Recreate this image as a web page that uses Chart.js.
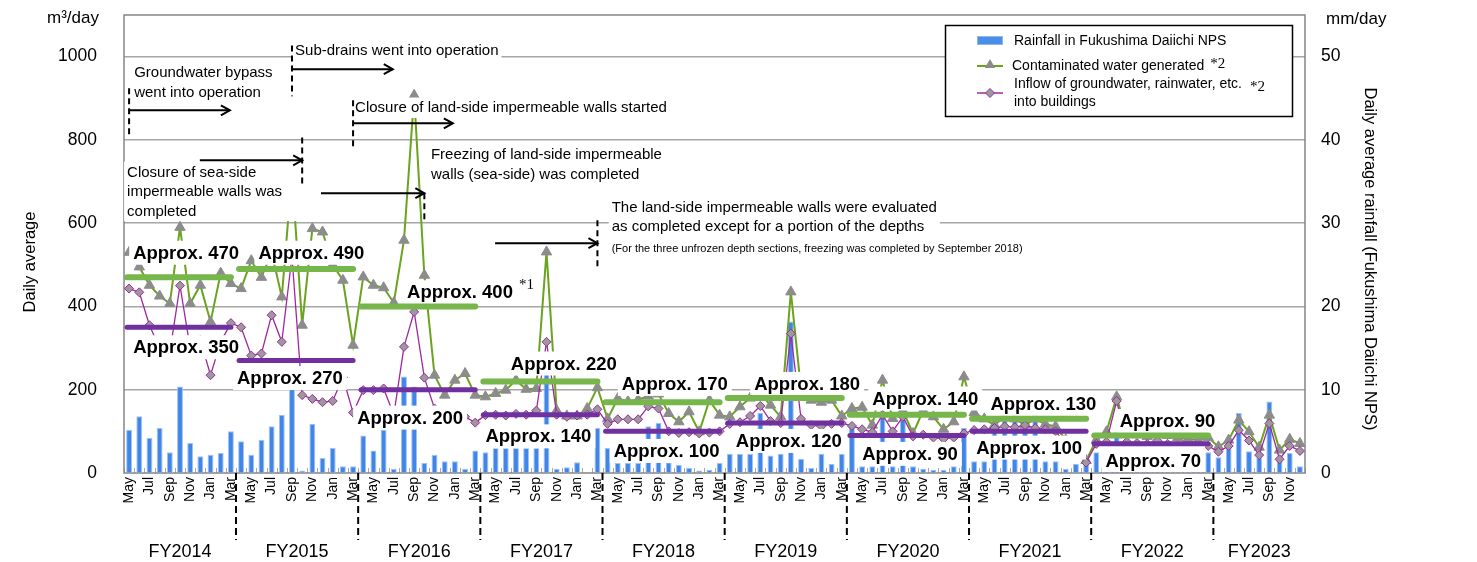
<!DOCTYPE html>
<html>
<head>
<meta charset="utf-8">
<script src="https://cdn.jsdelivr.net/npm/chart.js@4.4.1/dist/chart.umd.min.js"></script>
<style>
  html, body { margin: 0; padding: 0; background: #fff; }
  #wrap { width: 1477px; height: 562px; }
</style>
</head>
<body>
<div id="wrap"><canvas id="myChart" width="1477" height="562"></canvas></div>
<script>
// months from May 2014 to Dec 2023, one row per fiscal year
const months = [
  "May", "Jun", "Jul", "Aug", "Sep", "Oct", "Nov", "Dec", "Jan", "Feb", "Mar",
  "Apr", "May", "Jun", "Jul", "Aug", "Sep", "Oct", "Nov", "Dec", "Jan", "Feb", "Mar",
  "Apr", "May", "Jun", "Jul", "Aug", "Sep", "Oct", "Nov", "Dec", "Jan", "Feb", "Mar",
  "Apr", "May", "Jun", "Jul", "Aug", "Sep", "Oct", "Nov", "Dec", "Jan", "Feb", "Mar",
  "Apr", "May", "Jun", "Jul", "Aug", "Sep", "Oct", "Nov", "Dec", "Jan", "Feb", "Mar",
  "Apr", "May", "Jun", "Jul", "Aug", "Sep", "Oct", "Nov", "Dec", "Jan", "Feb", "Mar",
  "Apr", "May", "Jun", "Jul", "Aug", "Sep", "Oct", "Nov", "Dec", "Jan", "Feb", "Mar",
  "Apr", "May", "Jun", "Jul", "Aug", "Sep", "Oct", "Nov", "Dec", "Jan", "Feb", "Mar",
  "Apr", "May", "Jun", "Jul", "Aug", "Sep", "Oct", "Nov", "Dec", "Jan", "Feb", "Mar",
  "Apr", "May", "Jun", "Jul", "Aug", "Sep", "Oct", "Nov", "Dec",
];

// mm/day
const rainfall = [
  5.2, 6.8, 4.2, 5.4, 2.5, 10.4, 3.6, 2.0, 2.2, 2.4, 5.0,
  3.8, 2.2, 4.0, 5.6, 7.0, 12.5, 0.3, 5.9, 1.8, 3.0, 0.8, 0.8,
  4.5, 2.7, 5.2, 0.5, 11.6, 10.4, 1.2, 2.2, 1.4, 1.4, 0.5, 2.7,
  2.5, 3.0, 3.0, 3.0, 3.0, 3.0, 12.0, 0.5, 0.7, 1.3, 0.1, 5.4,
  3.0, 1.2, 1.2, 1.2, 5.6, 6.0, 1.3, 1.0, 0.6, 0.3, 0.4, 1.2,
  2.3, 2.3, 2.3, 7.2, 2.1, 2.3, 18.2, 1.7, 0.6, 2.3, 1.1, 2.3,
  5.5, 0.8, 0.8, 7.2, 0.8, 6.4, 0.8, 0.5, 0.4, 0.4, 0.8, 5.4,
  1.4, 1.4, 6.8, 6.9, 6.8, 6.9, 6.8, 1.4, 1.4, 0.5, 1.1, 1.4,
  2.5, 3.0, 4.9, 2.5, 3.0, 3.0, 4.9, 2.0, 1.5, 1.0, 1.2, 2.5,
  1.9, 3.6, 7.2, 2.6, 1.8, 8.6, 1.5, 2.4, 0.8,
];

// m3/day
const contaminated = [
  530, 495, 451, 425, 407, 590, 407, 451, 363, 480, 455,
  443, 510, 470, 530, 423, 720, 355, 587, 579, 500, 463, 307,
  471, 451, 445, 409, 559, 907, 475, 235, 187, 223, 239, 187,
  183, 191, 199, 223, 201, 203, 531, 150, 137, 137, 155, 205,
  130, 179, 172, 176, 185, 190, 143, 123, 147, 99, 175, 139,
  135, 159, 180, 190, 163, 135, 435, 200, 175, 170, 175, 137,
  155, 158, 115, 223, 131, 150, 95, 150, 135, 105, 123, 231,
  145, 130, 115, 135, 130, 115, 130, 117, 112, 80, 60, 30,
  79, 99, 183, 95, 92, 88, 95, 90, 85, 82, 80, 85,
  63, 79, 127, 99, 62, 139, 55, 81, 71,
];

const inflow = [
  443, 434, 355, 300, 290, 450, 300, 320, 235, 315, 360,
  350, 282, 287, 379, 315, 520, 187, 178, 170, 173, 230, 145,
  199, 199, 203, 140, 303, 387, 229, 155, 150, 140, 135, 121,
  139, 140, 138, 142, 140, 150, 315, 140, 135, 138, 140, 153,
  118, 129, 129, 129, 160, 155, 100, 96, 98, 95, 97, 100,
  118, 122, 137, 161, 125, 120, 335, 130, 115, 112, 118, 120,
  113, 105, 98, 140, 100, 135, 88, 92, 85, 82, 85, 95,
  103, 105, 108, 112, 110, 115, 108, 105, 100, 70, 55, 25,
  70, 75, 173, 75, 72, 70, 78, 70, 65, 62, 60, 65,
  51, 65, 103, 78, 43, 119, 33, 65, 53,
];

const fiscalYears = ["FY2014", "FY2015", "FY2016", "FY2017", "FY2018", "FY2019", "FY2020", "FY2021", "FY2022", "FY2023"];
const contaminatedAvg = [470, 490, 400, 220, 170, 180, 140, 130, 90];
const inflowAvg = [350, 270, 200, 140, 100, 120, 90, 100, 70];
const leftTicks = [0, 200, 400, 600, 800, 1000];
const rightTicks = [0, 10, 20, 30, 40, 50];

// label placement: x in month index, y in m3/day
const avgLabels = [
  { text: "Approx. 470", x: 5.6, y: 529 },
  { text: "Approx. 350", x: 5.6, y: 302 },
  { text: "Approx. 490", x: 17.9, y: 529 },
  { text: "Approx. 270", x: 15.8, y: 228 },
  { text: "Approx. 400", x: 32.5, y: 434 },
  { text: "Approx. 200", x: 27.6, y: 133 },
  { text: "Approx. 220", x: 42.7, y: 263 },
  { text: "Approx. 140", x: 40.2, y: 88 },
  { text: "Approx. 170", x: 53.6, y: 214 },
  { text: "Approx. 100", x: 52.8, y: 53 },
  { text: "Approx. 180", x: 66.6, y: 214 },
  { text: "Approx. 120", x: 64.8, y: 77 },
  { text: "Approx. 140", x: 78.2, y: 179 },
  { text: "Approx. 90", x: 76.7, y: 46 },
  { text: "Approx. 130", x: 89.8, y: 166 },
  { text: "Approx. 100", x: 88.4, y: 61 },
  { text: "Approx. 90", x: 102, y: 125 },
  { text: "Approx. 70", x: 100.6, y: 29, padY: 6 },
];

const notes = [
  { lines: ["Groundwater bypass", "went into operation"], x: 0.5, y: 960 },
  { lines: ["Sub-drains went into operation"], x: 16.3, y: 1013 },
  { lines: ["Closure of land-side impermeable walls started"], x: 22.2, y: 876 },
  { lines: ["Closure of sea-side", "impermeable walls was", "completed"], x: -0.2, y: 722, boxTo: 16.8 },
  { lines: ["Freezing of land-side impermeable", "walls (sea-side) was completed"], x: 29.65, y: 763 },
  { lines: ["The land-side impermeable walls were evaluated", "as completed except for a portion of the depths"], x: 47.4, y: 638 },
  { lines: ["(For the three unfrozen depth sections, freezing was completed by September 2018)"], x: 47.4, y: 538, size: 11 },
];

// dashed event line (x, top, bottom) and arrow (from, to, at y)
const events = [
  { x: 0, top: 924, bottom: 804, from: 0, to: 9.9, at: 871 },
  { x: 16, top: 1027, bottom: 905, from: 16, to: 25.9, at: 970 },
  { x: 22, top: 895, bottom: 775, from: 22, to: 31.8, at: 840 },
  { x: 17, top: 806, bottom: 686, from: 6.95, to: 17, at: 751 },
  { x: 29, top: 672, bottom: 602, from: 18.85, to: 29, at: 672 },
  { x: 46, top: 607, bottom: 492, from: 35.95, to: 46, at: 552 },
];

const SANS = '"Liberation Sans", Arial, sans-serif';
const SERIF = '"Liberation Serif", "DejaVu Serif", serif';
const GREEN = "#6aa31e";
const PURPLE = "#a0289f";
const CLEAR = "rgba(0,0,0,0)";

function arrow(ctx, x1, x2, y) {
  ctx.beginPath();
  ctx.moveTo(x1, y);
  ctx.lineTo(x2, y);
  ctx.stroke();
  ctx.beginPath();
  ctx.moveTo(x2 - 9, y - 5);
  ctx.lineTo(x2, y);
  ctx.lineTo(x2 - 9, y + 5);
  ctx.stroke();
}

function triangle(ctx, x, y, r) {
  ctx.beginPath();
  ctx.moveTo(x, y - r);
  ctx.lineTo(x + r * 0.87, y + r * 0.5);
  ctx.lineTo(x - r * 0.87, y + r * 0.5);
  ctx.closePath();
  ctx.fill();
}

const overlay = {
  id: "overlay",
  beforeDatasetsDraw(chart) {
    const { ctx, chartArea: a } = chart;
    const X = (i) => chart.scales.x.getPixelForValue(i);
    ctx.save();
    // small ticks inside the plot
    ctx.strokeStyle = "#a8a8a8";
    ctx.lineWidth = 1;
    for (let i = 0; i <= months.length; i++) {
      const x = Math.round(X(i - 0.5)) + 0.5;
      ctx.beginPath();
      ctx.moveTo(x, a.bottom);
      ctx.lineTo(x, a.bottom - 5);
      ctx.stroke();
    }
    ctx.strokeStyle = "#858585";
    ctx.lineWidth = 1.5;
    ctx.strokeRect(a.left, a.top, a.right - a.left, a.bottom - a.top);
    ctx.restore();
  },
  afterDatasetsDraw(chart) {
    const { ctx, chartArea: a } = chart;
    const X = (i) => chart.scales.x.getPixelForValue(i);
    const Y = (v) => chart.scales.y.getPixelForValue(v);
    ctx.save();

    // "Approx." labels on white boxes
    ctx.font = "bold 18.5px " + SANS;
    ctx.textAlign = "center";
    ctx.textBaseline = "middle";
    avgLabels.forEach((l) => {
      const cx = X(l.x);
      const cy = Y(l.y);
      const w = ctx.measureText(l.text).width;
      const py = l.padY || 0;
      const top = cy - 12 - py;
      const bottom = Math.min(cy + 12 + py, a.bottom - 1);
      ctx.fillStyle = "#fff";
      ctx.fillRect(cx - w / 2 - 4, top, w + 8, bottom - top);
      ctx.fillStyle = "#000";
      ctx.fillText(l.text, cx, cy + 1);
    });
    ctx.font = "15px " + SERIF;
    ctx.textAlign = "left";
    ctx.fillText("*1", X(38.3), Y(452));

    // fiscal year averages
    ctx.lineCap = "round";
    for (let k = 0; k < contaminatedAvg.length; k++) {
      const s = -1 + 12 * k;
      const x0 = X(Math.max(s, 0) - 0.2);
      const x1 = X(s + 11);
      ctx.strokeStyle = "#77b64b";
      ctx.lineWidth = 6;
      ctx.beginPath();
      ctx.moveTo(x0, Y(contaminatedAvg[k]));
      ctx.lineTo(x1, Y(contaminatedAvg[k]));
      ctx.stroke();
      ctx.strokeStyle = "#7030a0";
      ctx.lineWidth = 5;
      ctx.beginPath();
      ctx.moveTo(x0, Y(inflowAvg[k]));
      ctx.lineTo(x1, Y(inflowAvg[k]));
      ctx.stroke();
    }
    ctx.lineCap = "butt";

    // annotation texts
    notes.forEach((n) => {
      const size = n.size || 15;
      const lh = size + 4.5;
      ctx.font = size + "px " + SANS;
      ctx.textAlign = "left";
      ctx.textBaseline = "middle";
      const x = X(n.x);
      const y = Y(n.y);
      let w = Math.max(...n.lines.map((t) => ctx.measureText(t).width));
      if (n.boxTo !== undefined) w = Math.max(w, X(n.boxTo) - x);
      ctx.fillStyle = "#fff";
      ctx.fillRect(x - 3, y - lh / 2 - 1, w + 6, lh * n.lines.length + 1);
      ctx.fillStyle = "#000";
      n.lines.forEach((t, j) => ctx.fillText(t, x, y + j * lh));
    });

    // event lines and arrows
    ctx.strokeStyle = "#000";
    ctx.lineWidth = 2;
    events.forEach((e) => {
      ctx.setLineDash([6, 4]);
      ctx.beginPath();
      ctx.moveTo(X(e.x), Y(e.top));
      ctx.lineTo(X(e.x), Y(e.bottom));
      ctx.stroke();
      ctx.setLineDash([]);
      arrow(ctx, X(e.from), X(e.to), Y(e.at));
    });

    // legend
    ctx.fillStyle = "#fff";
    ctx.fillRect(945, 25, 348, 91);
    ctx.strokeStyle = "#000";
    ctx.lineWidth = 1.5;
    ctx.strokeRect(945.5, 25.5, 347, 91);
    ctx.fillStyle = "#4a8fe7";
    ctx.fillRect(977, 36, 26, 9);
    ctx.strokeStyle = "#8fb6ee";
    ctx.lineWidth = 1;
    ctx.strokeRect(977.5, 36.5, 25, 8);
    ctx.strokeStyle = GREEN;
    ctx.lineWidth = 2;
    ctx.beginPath();
    ctx.moveTo(977, 66);
    ctx.lineTo(1003, 66);
    ctx.stroke();
    ctx.fillStyle = "#8c8c8c";
    triangle(ctx, 990, 65, 6);
    ctx.strokeStyle = PURPLE;
    ctx.lineWidth = 1.5;
    ctx.beginPath();
    ctx.moveTo(977, 93);
    ctx.lineTo(1003, 93);
    ctx.stroke();
    ctx.fillStyle = "#9a9a9a";
    ctx.beginPath();
    ctx.moveTo(990, 88.5);
    ctx.lineTo(994.5, 93);
    ctx.lineTo(990, 97.5);
    ctx.lineTo(985.5, 93);
    ctx.closePath();
    ctx.fill();
    ctx.lineWidth = 1;
    ctx.stroke();

    ctx.fillStyle = "#000";
    ctx.font = "14px " + SANS;
    ctx.textAlign = "left";
    ctx.textBaseline = "middle";
    ctx.fillText("Rainfall in Fukushima Daiichi NPS", 1014, 41);
    const t2 = "Contaminated water generated";
    ctx.fillText(t2, 1012, 66);
    const w2 = ctx.measureText(t2).width;
    const t3 = "Inflow of groundwater, rainwater, etc.";
    ctx.fillText(t3, 1014, 84);
    const w3 = ctx.measureText(t3).width;
    ctx.fillText("into buildings", 1014, 102);
    ctx.font = "15px " + SERIF;
    ctx.fillText("*2", 1012 + w2 + 6, 64);
    ctx.fillText("*2", 1014 + w3 + 8, 87);

    ctx.restore();
  },
  afterDraw(chart) {
    const { ctx, chartArea: a } = chart;
    const X = (i) => chart.scales.x.getPixelForValue(i);
    ctx.save();
    ctx.fillStyle = "#000";
    ctx.strokeStyle = "#000";
    ctx.lineWidth = 2;
    ctx.font = "18px " + SANS;
    ctx.textAlign = "center";
    ctx.textBaseline = "middle";
    fiscalYears.forEach((fy, k) => {
      const s = -1 + 12 * k;
      const left = Math.max(X(s - 0.5), a.left);
      const right = Math.min(X(s + 11.5), a.right);
      ctx.fillText(fy, (left + right) / 2, 552);
      if (k > 0) {
        const x = X(s - 0.5);
        ctx.setLineDash([7, 4]);
        ctx.beginPath();
        ctx.moveTo(x, a.bottom);
        ctx.lineTo(x, 540);
        ctx.stroke();
        ctx.setLineDash([]);
      }
    });

    ctx.font = "17px " + SANS;
    ctx.textAlign = "left";
    ctx.fillText("m³/day", 47, 18);
    ctx.fillText("mm/day", 1326, 19);

    ctx.font = "16.5px " + SANS;
    ctx.textAlign = "center";
    ctx.save();
    ctx.translate(30, 262);
    ctx.rotate(-Math.PI / 2);
    ctx.fillText("Daily average", 0, 0);
    ctx.restore();
    ctx.save();
    ctx.translate(1370, 259);
    ctx.rotate(Math.PI / 2);
    ctx.fillText("Daily average rainfall (Fukushima Daiichi NPS)", 0, 0);
    ctx.restore();
    ctx.restore();
  },
};

const myChart = document.getElementById("myChart").getContext("2d");

const chart = new Chart(myChart, {
  type: "bar",
  data: {
    labels: months,
    datasets: [
      {
        type: "line",
        label: "Inflow of groundwater, rainwater, etc. into buildings",
        data: inflow,
        yAxisID: "y",
        borderColor: PURPLE,
        borderWidth: 1.3,
        pointStyle: "rectRot",
        pointRadius: 4.5,
        pointBackgroundColor: "#9a9a9a",
        pointBorderColor: PURPLE,
        pointBorderWidth: 1,
        order: 1,
      },
      {
        type: "line",
        label: "Contaminated water generated",
        data: contaminated,
        yAxisID: "y",
        borderColor: GREEN,
        borderWidth: 2,
        pointStyle: "triangle",
        pointRadius: 6,
        pointBackgroundColor: "#8c8c8c",
        pointBorderColor: "#8c8c8c",
        pointBorderWidth: 1,
        order: 2,
      },
      {
        type: "bar",
        label: "Rainfall in Fukushima Daiichi NPS",
        data: rainfall,
        yAxisID: "y1",
        backgroundColor: "#4285e9",
        borderColor: "#9ec2f5",
        borderWidth: 1,
        barPercentage: 0.58,
        categoryPercentage: 1,
        order: 3,
      },
    ],
  },
  options: {
    responsive: false,
    animation: false,
    devicePixelRatio: 1,
    layout: { padding: { top: 15 } },
    plugins: {
      legend: { display: false },
      tooltip: { enabled: false },
    },
    scales: {
      x: {
        offset: true,
        grid: { display: false, drawTicks: false },
        border: { display: false },
        ticks: {
          autoSkip: false,
          minRotation: 90,
          maxRotation: 90,
          padding: 4,
          color: "#000",
          font: { family: SANS, size: 14 },
          callback: function (value, index) {
            return index % 2 === 0 ? this.getLabelForValue(value) : "";
          },
        },
        afterFit: (scale) => { scale.height = 89; },
      },
      y: {
        position: "left",
        min: 0,
        max: 1100,
        afterBuildTicks: (scale) => { scale.ticks = leftTicks.map((v) => ({ value: v })); },
        grid: {
          color: (c) => (c.tick && c.tick.value === 0 ? CLEAR : "#a6a6a6"),
          lineWidth: 1.5,
          drawTicks: true,
          tickLength: 27,
          tickColor: CLEAR,
        },
        border: { display: false },
        ticks: {
          padding: 0,
          color: "#000",
          font: { family: SANS, size: 17.5 },
          callback: (v) => String(v),
        },
        afterFit: (scale) => { scale.width = 124; },
      },
      y1: {
        position: "right",
        min: 0,
        max: 55,
        afterBuildTicks: (scale) => { scale.ticks = rightTicks.map((v) => ({ value: v })); },
        grid: { drawOnChartArea: false, drawTicks: true, tickLength: 16, tickColor: CLEAR, color: CLEAR },
        border: { display: false },
        ticks: {
          padding: 0,
          color: "#000",
          font: { family: SANS, size: 17.5 },
          callback: (v) => String(v),
        },
        afterFit: (scale) => { scale.width = 172; },
      },
    },
  },
  plugins: [overlay],
});
</script>
</body>
</html>
